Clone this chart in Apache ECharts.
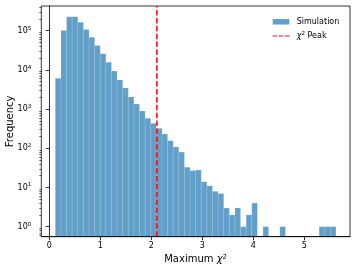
<!DOCTYPE html>
<html><head><meta charset="utf-8">
<script src="https://cdn.jsdelivr.net/npm/echarts@6/dist/echarts.min.js"></script>
<style>html,body{margin:0;padding:0;background:#fff}#c{width:357px;height:273px}</style>
</head><body><div id="c"></div>
<script>
// Histogram bin edges
const binEdges = [0.12, 0.23, 0.34, 0.45, 0.56, 0.67, 0.78, 0.89, 1.00, 1.11, 1.22, 1.33, 1.44, 1.55, 1.66, 1.77, 1.88, 1.99, 2.10, 2.21, 2.32, 2.43, 2.54, 2.65, 2.76, 2.87, 2.98, 3.09, 3.20, 3.31, 3.42, 3.53, 3.64, 3.75, 3.86, 3.97, 4.08, 4.19, 4.30, 4.41, 4.52, 4.63, 4.74, 4.85, 4.96, 5.07, 5.18, 5.29, 5.40, 5.51, 5.62];
// Counts per bin
const counts = [6100, 101000, 226000, 226000, 164000, 108000, 68000, 42000, 26000, 15600,
  9400, 5500, 3450, 2040, 1350, 895, 582, 434, 324, 232,
  156, 108, 80, 33, 27, 28, 14, 11, 8, 7,
  3, 2, 3, 1, 2, 4, 0, 1, 0, 0,
  1, 0, 0, 0, 0, 0, 0, 1, 1, 1];
const peakX = 2.11;
const xTicks = [0, 1, 2, 3, 4, 5];
const yTicks = [1, 10, 100, 1000, 10000, 100000];
const yMinorTicks = [0.6, 0.7, 0.8, 0.9,
  2, 3, 4, 5, 6, 7, 8, 9,
  20, 30, 40, 50, 60, 70, 80, 90,
  200, 300, 400, 500, 600, 700, 800, 900,
  2000, 3000, 4000, 5000, 6000, 7000, 8000, 9000,
  20000, 30000, 40000, 50000, 60000, 70000, 80000, 90000,
  200000, 300000, 400000];
const seriesNames = ['Simulation', 'χ2 Peak'];

const X_MIN = -0.155, X_MAX = 5.895;
const Y_MIN = 0.556, Y_MAX = 427000;
const FONT = 'DejaVu Sans';

const histData = [];
for (let i = 0; i < counts.length; i++) {
  if (counts[i] > 0) histData.push([binEdges[i], binEdges[i + 1], counts[i]]);
}

const chart = echarts.init(document.getElementById('c'), null, {renderer: 'canvas'});
const supRich = {
  b: {fontFamily: FONT, fontSize: 8, color: '#000'},
  s: {fontFamily: FONT, fontSize: 5.6, color: '#000', verticalAlign: 'bottom', padding: [0, 0, 5, 0]}
};
chart.setOption({
  animation: false,
  backgroundColor: '#fff',
  grid: {left: 41.3, right: 7, top: 6, bottom: 36.3, show: true, borderColor: '#000', borderWidth: 0.8,
    backgroundColor: 'transparent', containLabel: false, outerBoundsMode: 'none'},
  legend: [{
    data: [{name: seriesNames[0], icon: 'rect'}],
    left: 272.7, top: 16.8, padding: 0, itemWidth: 16.6, itemHeight: 5.5,
    itemStyle: {borderWidth: 0},
    textStyle: {fontFamily: FONT, fontSize: 8, color: '#000', lineHeight: 10, padding: [0, 0, 0, 2.4]}
  }, {
    data: [{name: seriesNames[1], icon: 'path://M0,0H4.3V1H0Z M6.1,0H10.4V1H6.1Z M12.3,0H16.6V1H12.3Z'}],
    left: 272.7, top: 31, padding: 0, itemWidth: 16.6, itemHeight: 1.5,
    itemStyle: {borderWidth: 0},
    formatter: function () { return '{i|χ}{s|2}{b| Peak}'; },
    textStyle: {fontFamily: FONT, fontSize: 8, color: '#000', lineHeight: 10, padding: [0, 0, 0, 2.4],
      rich: {
        i: {fontFamily: FONT, fontSize: 8, fontStyle: 'italic', color: '#000'},
        b: {fontFamily: FONT, fontSize: 8, color: '#000'},
        s: {fontFamily: FONT, fontSize: 5.6, color: '#000', verticalAlign: 'bottom', padding: [0, 0, 4, 0]}
      }}
  }],
  xAxis: {
    type: 'value', min: X_MIN, max: X_MAX, z: 10,
    name: '{a|Maximum }{i|χ}{s|2}', nameLocation: 'middle', nameGap: 17, nameMoveOverlap: false,
    nameTextStyle: {fontFamily: FONT, fontSize: 10, color: '#000',
      rich: {
        a: {fontFamily: FONT, fontSize: 10, color: '#000'},
        i: {fontFamily: FONT, fontSize: 10, fontStyle: 'italic', color: '#000'},
        s: {fontFamily: FONT, fontSize: 7, color: '#000', verticalAlign: 'bottom', padding: [0, 0, 5, 0]}
      }},
    axisLine: {show: true, lineStyle: {color: '#000', width: 0.8}},
    axisTick: {show: true, length: 3.5, lineStyle: {color: '#000', width: 0.8}, customValues: xTicks},
    axisLabel: {fontFamily: FONT, fontSize: 8, color: '#000', margin: 5, customValues: xTicks},
    splitLine: {show: false}
  },
  yAxis: [{
    type: 'log', min: Y_MIN, max: Y_MAX, z: 10,
    name: 'Frequency', nameLocation: 'middle', nameGap: 26, nameMoveOverlap: false,
    nameTextStyle: {fontFamily: FONT, fontSize: 10, color: '#000'},
    axisLine: {show: true, lineStyle: {color: '#000', width: 0.8}},
    axisTick: {show: true, length: 3.5, lineStyle: {color: '#000', width: 0.8}, customValues: yTicks},
    axisLabel: {
      margin: 10, customValues: yTicks,
      formatter: function (v) { return '{b|10}{s|' + Math.round(Math.log10(v)) + '}'; },
      rich: supRich
    },
    splitLine: {show: false}
  }, {
    type: 'log', min: Y_MIN, max: Y_MAX, position: 'left', z: 10,
    axisLine: {show: false},
    axisTick: {show: true, length: 2, lineStyle: {color: '#000', width: 0.6}, customValues: yMinorTicks},
    axisLabel: {show: false},
    splitLine: {show: false}
  }],
  series: [{
    name: seriesNames[0],
    type: 'custom',
    xAxisIndex: 0, yAxisIndex: 0,
    itemStyle: {color: 'rgba(31,119,180,0.7)'},
    encode: {x: [0, 1], y: 2},
    data: histData,
    renderItem: function (params, api) {
      const p0 = api.coord([api.value(0), api.value(2)]);
      const p1 = api.coord([api.value(1), Y_MIN]);
      return {
        type: 'rect',
        shape: {x: p0[0], y: p0[1], width: p1[0] - p0[0], height: p1[1] - p0[1]},
        style: {fill: 'rgba(31,119,180,0.7)', stroke: 'rgba(255,255,255,0.22)', lineWidth: 0.5}
      };
    },
    z: 2
  }, {
    name: seriesNames[1],
    type: 'line',
    xAxisIndex: 0, yAxisIndex: 0,
    data: [[peakX, Y_MIN], [peakX, Y_MAX]],
    symbol: 'none',
    color: 'red',
    itemStyle: {color: 'red'},
    lineStyle: {color: 'red', width: 1.5, type: [5.5, 2.4]},
    z: 5
  }]
});
</script>
</body></html>
